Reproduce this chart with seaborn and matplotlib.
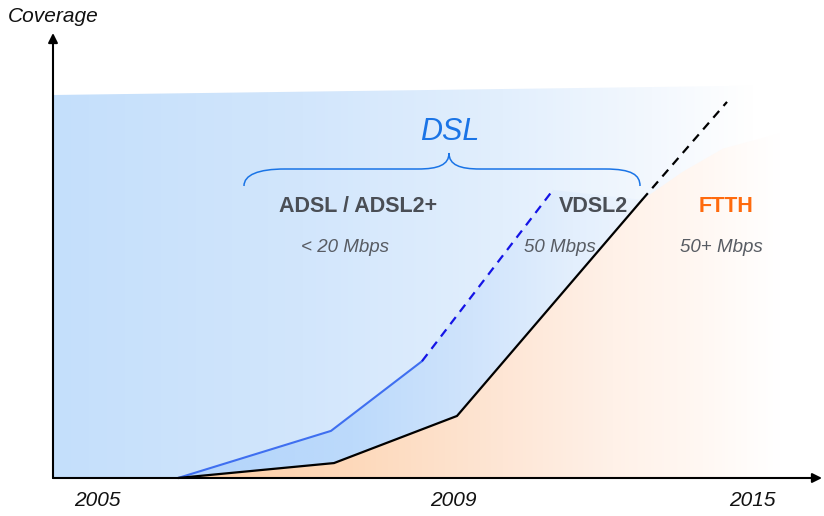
import numpy as np
import pandas as pd
import matplotlib
matplotlib.use('Agg')
import matplotlib.pyplot as plt
import seaborn as sns
from matplotlib.patches import Polygon, PathPatch
from matplotlib.path import Path

# eixo x: posicao na linha do tempo (unidades arbitrarias), eixo y: cobertura (%)
vdsl_x = [125, 278, 369]
vdsl_y = [0, 12.3, 30.5]
vdsl_proj_x = [369, 500]
vdsl_proj_y = [30.5, 75.2]

ftth_x = [125, 281, 404, 589]
ftth_y = [0, 3.9, 16.2, 72.6]
ftth_proj_x = [589, 674]
ftth_proj_y = [72.6, 98.2]

# limite superior da regiao DSL e da regiao FTTH (esmaecida)
dsl_top_x = [0, 720]
dsl_top_y = [100, 102.5]
ftth_top_x = [589, 630, 670, 727]
ftth_top_y = [72.6, 80.0, 86.0, 90.0]

anos = ['2005', '2009', '2015']
anos_pos = [44, 400, 699]

tecnologias = ['ADSL / ADSL2+', 'VDSL2', 'FTTH']
tecnologias_pos = [305, 540, 673]
velocidades = ['< 20 Mbps', '50 Mbps', '50+ Mbps']
velocidades_pos = [292, 507, 668]

# cores
azul_fundo = '#c4dffb'
azul_faixa = '#b3d4fb'
laranja = '#fdcda2'
azul_linha = '#3f6ff0'
azul_tracejado = '#1414e6'
azul_dsl = '#1a74e6'
cinza_texto = '#4a4e55'
cinza_vel = '#585c63'
laranja_ftth = '#ff6a0d'

sns.set_theme(style='white')
plt.rcParams['font.family'] = ['Liberation Sans', 'DejaVu Sans']


def px(x, y):
    # converte pixel da imagem para unidades dos dados
    return (x - 53, (478 - y) / 3.83)


fig = plt.figure(figsize=(8.24, 5.16), dpi=100)
ax = fig.add_axes([0, 0, 1, 1])
xlim = (-53, 771)
ylim = (-38 / 3.83, 478 / 3.83)


def gradiente(ax, verts, stops, cores):
    # preenche o poligono com gradiente horizontal
    poly = Polygon(verts, closed=True, facecolor='none', edgecolor='none')
    ax.add_patch(poly)
    xs = np.linspace(xlim[0], xlim[1], 600)
    rgb = np.array([matplotlib.colors.to_rgb(c) for c in cores])
    img = np.stack([np.interp(xs, stops, rgb[:, k]) for k in range(3)], axis=-1)
    img = np.repeat(img[None, :, :], 2, axis=0)
    im = ax.imshow(img, extent=(xlim[0], xlim[1], ylim[0], ylim[1]),
                   aspect='auto', origin='lower', zorder=1)
    im.set_clip_path(poly)


# fundo azul (DSL)
verts_dsl = [(0, 0), (dsl_top_x[0], dsl_top_y[0]), (dsl_top_x[1], dsl_top_y[1]), (dsl_top_x[1], 0)]
gradiente(ax, verts_dsl, [0, 250, 450, 600, 700], [azul_fundo, '#d2e6fc', '#e2effd', '#f3f8fe', '#ffffff'])

# faixa entre VDSL e FTTH
verts_faixa = list(zip(vdsl_x, vdsl_y)) + [(vdsl_proj_x[1], vdsl_proj_y[1])] + list(zip(ftth_x, ftth_y))[::-1]
gradiente(ax, verts_faixa, [125, 300, 420, 520, 600], [azul_faixa, '#bcdafb', '#d0e4fc', '#e3effd', '#eef5fe'])

# regiao laranja (FTTH)
verts_ftth = list(zip(ftth_x, ftth_y)) + list(zip(ftth_top_x[1:], ftth_top_y[1:])) + [(ftth_top_x[-1], 0)]
gradiente(ax, verts_ftth, [125, 300, 450, 560, 650, 727],
          [laranja, '#fdd9bb', '#fee6d5', '#fff1e8', '#fff8f3', '#ffffff'])

# linhas
sns.lineplot(x=vdsl_x, y=vdsl_y, color=azul_linha, lw=1.5, ax=ax, zorder=3)
sns.lineplot(x=vdsl_proj_x, y=vdsl_proj_y, color=azul_tracejado, lw=1.6, ax=ax, zorder=3, linestyle=(0, (4, 3)))
sns.lineplot(x=ftth_x, y=ftth_y, color='black', lw=1.6, ax=ax, zorder=4)
sns.lineplot(x=ftth_proj_x, y=ftth_proj_y, color='black', lw=1.6, ax=ax, zorder=4, linestyle=(0, (4, 3)))

# eixos com setas
ax.annotate('', xy=(0, (478 - 33) / 3.83), xytext=(0, 0),
            arrowprops=dict(arrowstyle='-|>', lw=1.5, color='black', mutation_scale=14, shrinkA=0, shrinkB=0), zorder=5)
ax.annotate('', xy=(769, 0), xytext=(0, 0),
            arrowprops=dict(arrowstyle='-|>', lw=1.5, color='black', mutation_scale=14, shrinkA=0, shrinkB=0), zorder=5)

# chave do DSL
pts = [(244, 186), (244, 175), (258, 169), (285, 169), (418, 169),
       (438, 169), (449, 165), (449, 153),
       (449, 165), (460, 169), (480, 169), (605, 169),
       (632, 169), (640, 175), (640, 186)]
codes = [Path.MOVETO, Path.CURVE4, Path.CURVE4, Path.CURVE4, Path.LINETO,
         Path.CURVE4, Path.CURVE4, Path.CURVE4,
         Path.CURVE4, Path.CURVE4, Path.CURVE4, Path.LINETO,
         Path.CURVE4, Path.CURVE4, Path.CURVE4]
chave = PathPatch(Path([px(*p) for p in pts], codes), facecolor='none', edgecolor=azul_dsl, lw=1.1, zorder=5)
ax.add_patch(chave)

# textos
ax.text(*px(8, 17), 'Coverage', fontsize=15, fontstyle='italic', color='#111111', ha='left', va='center')
ax.text(*px(450, 132), 'DSL', fontsize=22, fontstyle='italic', color=azul_dsl, ha='center', va='center', zorder=6)
for nome, pos in zip(tecnologias, tecnologias_pos):
    ax.text(pos, px(0, 206)[1], nome, fontsize=15.5, fontweight='bold', ha='center', va='center',
            color=laranja_ftth if nome == 'FTTH' else cinza_texto, zorder=6)
for vel, pos in zip(velocidades, velocidades_pos):
    ax.text(pos, px(0, 248)[1], vel, fontsize=13.5, fontstyle='italic', ha='center', va='center',
            color=cinza_vel, zorder=6)
for ano, pos in zip(anos, anos_pos):
    ax.text(pos, px(0, 501)[1], ano, fontsize=15, fontstyle='italic', ha='center', va='center', color='#111111')

ax.set_xlim(*xlim)
ax.set_ylim(*ylim)
ax.axis('off')
if ax.get_legend():
    ax.get_legend().remove()

fig.savefig('out.png', dpi=100)
